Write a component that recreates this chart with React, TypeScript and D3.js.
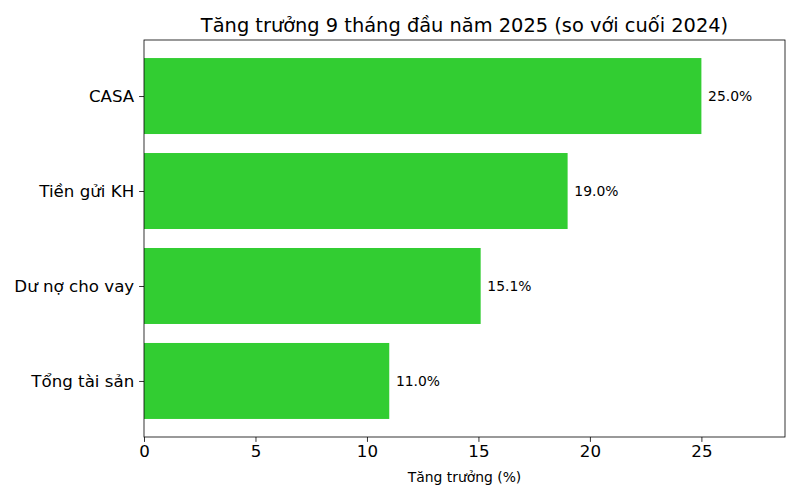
import React, { useEffect, useRef } from 'react'
import * as d3 from 'd3'

// data, bottom-to-top order like the original
const categories = ['Tổng tài sản', 'Dư nợ cho vay', 'Tiền gửi KH', 'CASA']
const growth = [11.0, 15.1, 19.0, 25.0]
const xTicks = [0, 5, 10, 15, 20, 25]

export default function App() {
  const svgRef = useRef<SVGSVGElement | null>(null)

  useEffect(() => {
    if (!svgRef.current) return
    const svg = d3.select(svgRef.current)
    svg.selectAll('*').remove()

    const width = 800
    const height = 500
    const left = 144, right = 785, top = 40, bottom = 437
    const font = 'DejaVu Sans, sans-serif'

    svg.attr('width', width).attr('height', height).style('background', '#fff')

    const xMax = d3.max(growth)! * 1.15
    const x = d3.scaleLinear().domain([0, xMax]).range([left, right])
    // matplotlib style: bar positions 0..n-1, bar height 0.8, 5% margin
    const n = categories.length
    const lo = -0.4, hi = n - 1 + 0.4
    const pad = (hi - lo) * 0.05
    const y = d3.scaleLinear().domain([lo - pad, hi + pad]).range([bottom, top])

    const bars = categories.map((c, i) => ({ cat: c, val: growth[i], i }))

    svg.append('g')
      .selectAll('rect')
      .data(bars)
      .enter()
      .append('rect')
      .attr('x', x(0))
      .attr('y', d => y(d.i + 0.4))
      .attr('width', d => x(d.val) - x(0))
      .attr('height', d => y(d.i - 0.4) - y(d.i + 0.4))
      .attr('fill', '#32cd32')

    // value labels
    svg.append('g')
      .selectAll('text')
      .data(bars)
      .enter()
      .append('text')
      .attr('x', d => x(d.val + 0.3))
      .attr('y', d => y(d.i))
      .attr('dy', '0.35em')
      .style('font-family', font)
      .style('font-size', '13.9px')
      .text(d => d.val.toFixed(1) + '%')

    // x axis
    const xAxis = svg.append('g')
      .attr('transform', `translate(0, ${bottom})`)
      .call(d3.axisBottom(x).tickValues(xTicks).tickSize(4.9).tickPadding(3.5).tickFormat(d3.format('d')))
    xAxis.select('.domain').remove()
    xAxis.selectAll('line').attr('stroke', '#000').attr('stroke-width', 0.8)
    xAxis.selectAll('text')
      .style('font-family', font)
      .style('font-size', '16.67px')
      .attr('fill', '#000')

    // y axis
    const yAxis = svg.append('g')
      .attr('transform', `translate(${left}, 0)`)
      .call(d3.axisLeft(y).tickValues(d3.range(n)).tickSize(4.9).tickPadding(4.9).tickFormat(d => categories[+d]))
    yAxis.select('.domain').remove()
    yAxis.selectAll('line').attr('stroke', '#000').attr('stroke-width', 0.8)
    yAxis.selectAll('text')
      .style('font-family', font)
      .style('font-size', '16.67px')
      .attr('fill', '#000')

    // frame
    svg.append('rect')
      .attr('x', left)
      .attr('y', top)
      .attr('width', right - left)
      .attr('height', bottom - top)
      .attr('fill', 'none')
      .attr('stroke', '#000')
      .attr('stroke-width', 0.8)

    // title and axis label
    svg.append('text')
      .attr('x', (left + right) / 2)
      .attr('y', 32)
      .attr('text-anchor', 'middle')
      .style('font-family', font)
      .style('font-size', '19.4px')
      .text('Tăng trưởng 9 tháng đầu năm 2025 (so với cuối 2024)')

    svg.append('text')
      .attr('x', (left + right) / 2)
      .attr('y', 482)
      .attr('text-anchor', 'middle')
      .style('font-family', font)
      .style('font-size', '13.9px')
      .text('Tăng trưởng (%)')
  }, [])

  return (
    <svg ref={svgRef} style={{ position: 'absolute', left: 0, top: 0, display: 'block' }}></svg>
  )
}
